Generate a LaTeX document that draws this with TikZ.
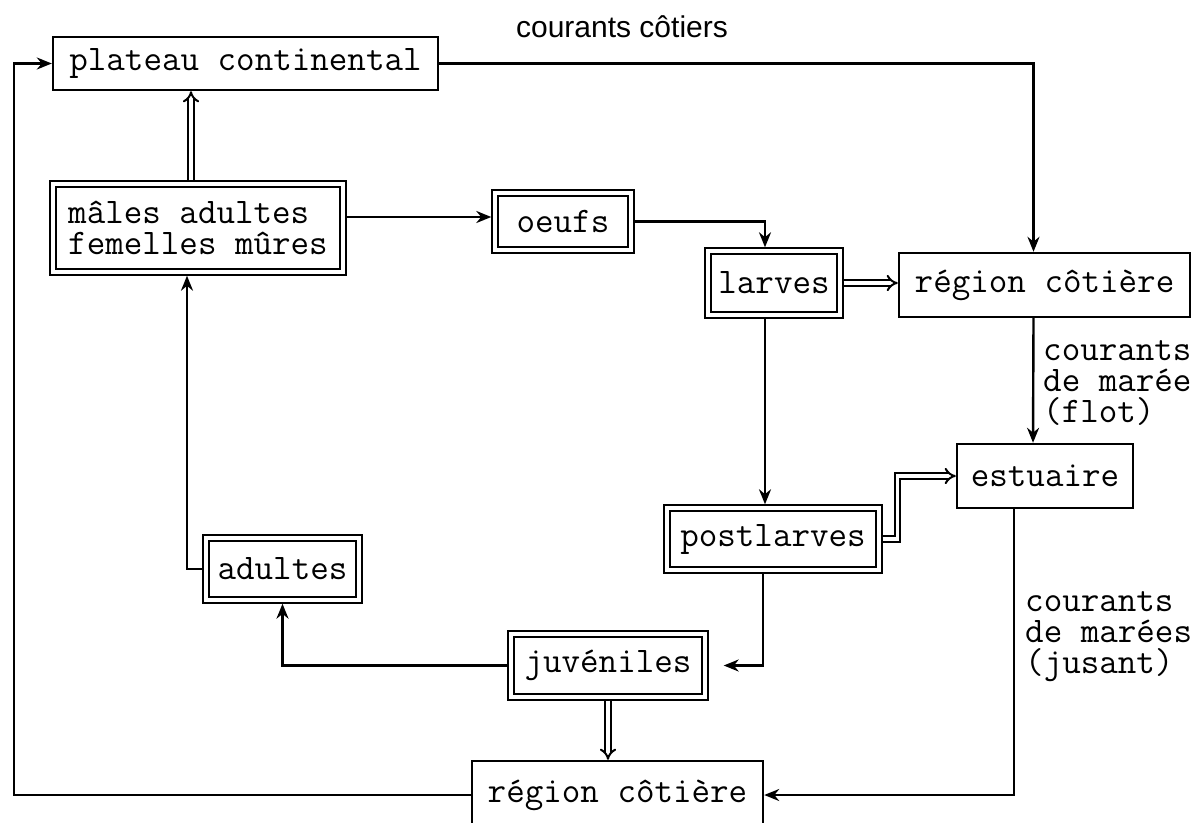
\documentclass[tikz,border=0pt]{standalone}
\usepackage{fontspec}
\newfontfamily\lsans{Liberation Sans}
\usetikzlibrary{arrows.meta,calc}
\newcommand\txf{\ttfamily\addfontfeatures{FakeBold=0.6}\fontsize{36}{31}\selectfont}
\begin{document}
\begin{tikzpicture}[x=1pt,y=-1pt,
  ln/.style={line width=2.4pt},
  arr/.style={ln,-{Stealth[length=15pt,width=12pt]}},
  darr/.style={line width=2pt,double,double distance=3.4pt,-{Implies[length=11pt,width=20pt]}},
  box/.style={draw,line width=2.4pt,inner sep=0pt,font=\txf,anchor=center},
  dbox/.style={box,double,double distance=3.4pt,line width=2pt,outer sep=3.7pt},
  lab/.style={font=\txf,align=left,anchor=west,inner sep=0pt}]
\clip (0,0) rectangle (1201,822);
\fill[white] (0,0) rectangle (1201,822);
% nodes
\node[box,minimum width=385pt,minimum height=53pt] (plat) at (245.5,63.5) {plateau continental};
\node[dbox,minimum width=290pt,minimum height=88pt,align=left] (males) at (198,228) {mâles adultes\\femelles mûres};
\node[dbox,minimum width=136pt,minimum height=57pt] (oeufs) at (563,221.5) {oeufs};
\node[dbox,minimum width=132pt,minimum height=64pt] (larves) at (774,283) {larves};
\node[box,minimum width=291pt,minimum height=64pt] (rc1) at (1044.5,285) {région côtière};
\node[box,minimum width=176pt,minimum height=64pt] (estu) at (1045,476) {estuaire};
\node[dbox,minimum width=212pt,minimum height=62pt] (post) at (773,539) {postlarves};
\node[dbox,minimum width=153pt,minimum height=62pt] (adul) at (282.5,569) {adultes};
\node[dbox,minimum width=194pt,minimum height=63pt] (juv) at (608,665.5) {juvéniles};
\node[box,minimum width=291pt,minimum height=68pt] (rc2) at (617.5,795) {région côtière};
% labels
\node[font=\lsans\fontsize{30}{36}\selectfont,inner sep=0pt] (lab1) at (622,27) {courants côtiers};
\node[lab] (lab2) at (1043,383) {courants\\de marée\\(flot)};
\node[lab] (lab3) at (1025,637) {courants\\de marées\\(jusant)};
% connectors
\draw[arr] (rc2.west) -- ++(-457,0) |- (plat.west);
\draw[arr] (plat.east) -| ([xshift=-11pt]rc1.north);
\draw[arr] ([xshift=-11pt]rc1.south) -- ([xshift=-12pt]estu.north);
\draw[arr] ([xshift=-31pt]estu.south) |- (rc2.east);
\draw[darr] ([xshift=-7pt]males.north) -- ([xshift=-7pt]males.north |- plat.south);
\draw[arr] ([yshift=11pt]males.east) -- ([yshift=11pt]males.east -| oeufs.west);
\draw[arr] (oeufs.east) -| ([xshift=-9pt]larves.north);
\draw[darr] (larves.east) -- (larves.east -| rc1.west);
\draw[arr] ([xshift=-9pt]larves.south) -- ([xshift=-9pt]larves.south |- post.north);
\draw[darr] (post.east) -- ++(15,0) |- (estu.west);
\draw[arr] ([xshift=-10pt]post.south) |- ([xshift=15pt]juv.east);
\draw[arr] (juv.west) -| (adul.south);
\draw[arr] (adul.west) -| ([xshift=-11pt]males.south);
\draw[darr] (juv.south) -- (juv.south |- rc2.north);
\end{tikzpicture}
\end{document}
